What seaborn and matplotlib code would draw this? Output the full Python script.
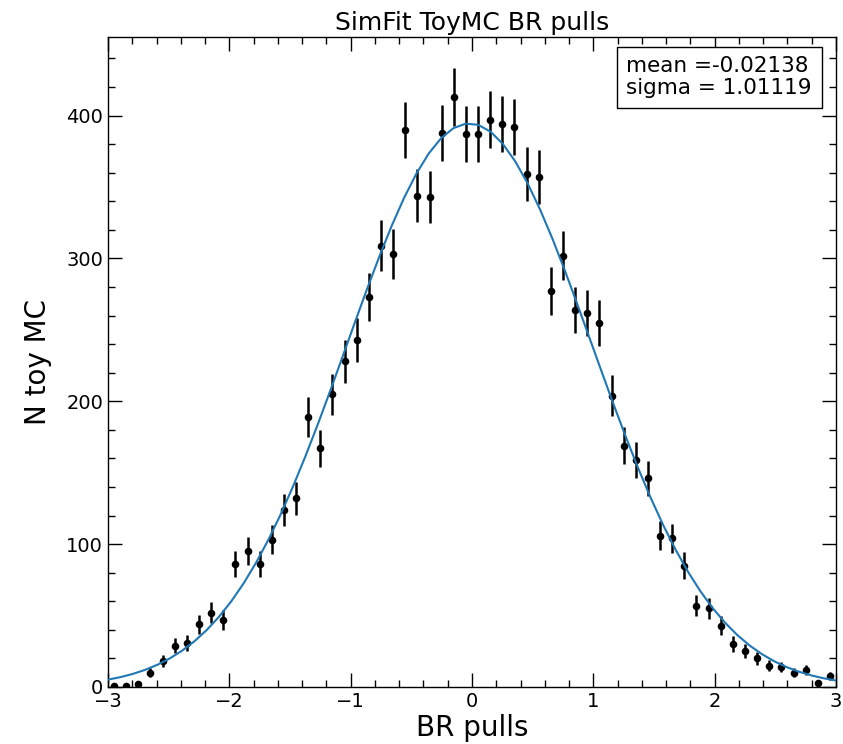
import numpy as np
import pandas as pd
import matplotlib
matplotlib.use("Agg")
import matplotlib.pyplot as plt
from matplotlib.ticker import MultipleLocator
import seaborn as sns

# Pull histogram: 60 bins of width 0.1 between -3 and 3
bin_centers = [round(-2.95 + 0.1 * i, 2) for i in range(60)]
counts = [1, 1, 2, 10, 18, 29, 31, 44, 52, 47,
          86, 95, 86, 103, 124, 132, 189, 167, 205, 228,
          243, 273, 309, 303, 390, 344, 343, 388, 413, 387,
          387, 397, 394, 392, 359, 357, 277, 302, 264, 262,
          255, 204, 169, 159, 146, 106, 104, 85, 57, 55,
          43, 30, 25, 20, 15, 14, 10, 12, 3, 8]

# Gaussian fit results
fit_mean = -0.02138
fit_sigma = 1.01119
n_toys = 10000
bin_width = 0.1

df = pd.DataFrame({"pull": bin_centers, "n": counts})
df["err"] = np.sqrt(df["n"])

xs = np.linspace(-3, 3, 60)
fit = pd.DataFrame({
    "pull": xs,
    "n": n_toys * bin_width / (np.sqrt(2 * np.pi) * fit_sigma)
         * np.exp(-0.5 * ((xs - fit_mean) / fit_sigma) ** 2),
})

sns.set_style("white", rc={"text.color": "black", "axes.labelcolor": "black",
                           "xtick.color": "black", "ytick.color": "black",
                           "axes.edgecolor": "black"})
plt.rcParams["font.family"] = ["DejaVu Sans"]

fig = plt.figure(figsize=(8.43, 7.44), dpi=100)
ax = fig.add_axes([108 / 843, 57 / 744, 728 / 843, 650 / 744])

ax.errorbar(df["pull"], df["n"], yerr=df["err"], fmt="none",
            ecolor="black", elinewidth=1.8, capsize=0, zorder=2)
sns.scatterplot(data=df, x="pull", y="n", ax=ax, color="black",
                s=30, edgecolor="black", linewidth=0, zorder=3)
sns.lineplot(data=fit, x="pull", y="n", ax=ax, color="#1f77b4",
             linewidth=1.5, zorder=4)

ax.set_xlim(-3, 3)
ax.set_ylim(0, (df["n"] + df["err"]).max() * 1.05)

ax.xaxis.set_major_locator(MultipleLocator(1))
ax.xaxis.set_minor_locator(MultipleLocator(0.2))
ax.yaxis.set_major_locator(MultipleLocator(100))
ax.yaxis.set_minor_locator(MultipleLocator(20))
ax.tick_params(which="both", direction="in", top=True, right=True,
               bottom=True, left=True, labelsize=14, color="black",
               labelcolor="black")
ax.tick_params(which="major", length=10, width=1)
ax.tick_params(which="minor", length=5, width=1)
for s in ax.spines.values():
    s.set_color("black")
    s.set_linewidth(1)

ax.set_xlabel("BR pulls", fontsize=20, labelpad=2, color="black")
ax.set_ylabel("N toy MC", fontsize=20, labelpad=10, color="black")
ax.set_title("SimFit ToyMC BR pulls", fontsize=18, pad=5, color="black")

ax.text(0.967, 0.97, f"mean ={fit_mean}\nsigma = {fit_sigma}",
        transform=ax.transAxes, ha="right", va="top", multialignment="left",
        fontsize=15.5, linespacing=1.12, color="black",
        bbox=dict(boxstyle="square,pad=0.45", facecolor="white",
                  edgecolor="black", linewidth=1))

fig.savefig("out.png", dpi=100)
